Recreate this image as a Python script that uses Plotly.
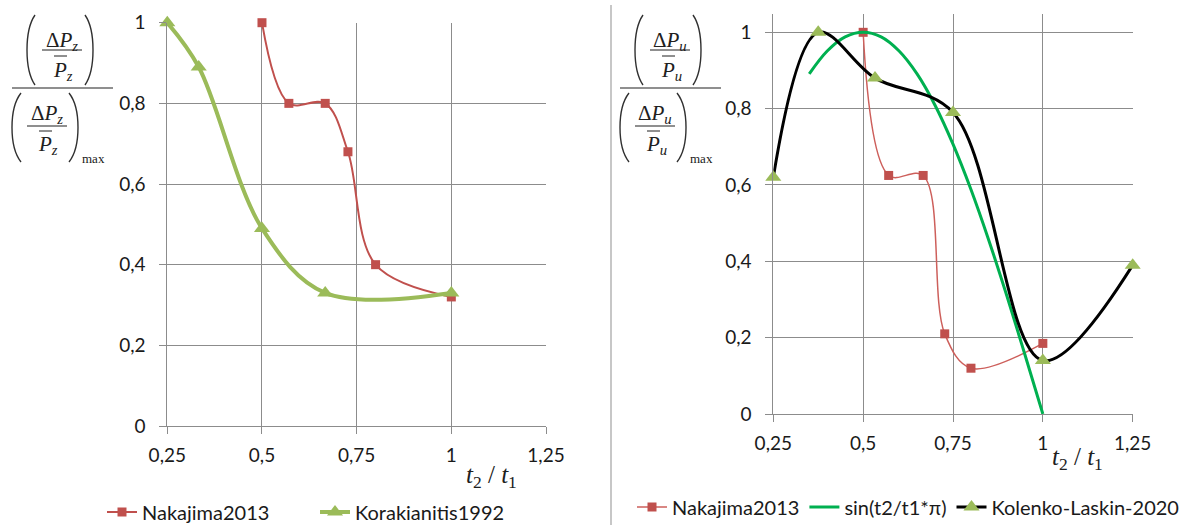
import plotly.graph_objects as go

W, H = 1198, 525

# ---------------- data ----------------
x_ticks = [0.25, 0.5, 0.75, 1.0, 1.25]
x_tick_text = ["0,25", "0,5", "0,75", "1", "1,25"]
y_ticks = [0, 0.2, 0.4, 0.6, 0.8, 1.0]
y_tick_text = ["0", "0,2", "0,4", "0,6", "0,8", "1"]

# left panel
nak_left_x = [0.5, 0.571, 0.667, 0.727, 0.8, 1.0]
nak_left_y = [1.0, 0.80, 0.80, 0.68, 0.40, 0.32]
kor_x = [0.25, 0.333, 0.5, 0.667, 1.0]
kor_y = [1.0, 0.89, 0.49, 0.33, 0.33]

# right panel
nak_right_x = [0.5, 0.571, 0.667, 0.727, 0.8, 1.0]
nak_right_y = [1.0, 0.625, 0.625, 0.21, 0.12, 0.185]
sin_x = [0.35, 0.4, 0.45, 0.5, 0.55, 0.6, 0.65, 0.7, 0.75, 0.8, 0.85, 0.9, 0.95, 1.0]
sin_y = [0.891, 0.951, 0.988, 1.0, 0.988, 0.951, 0.891, 0.809, 0.707, 0.588, 0.454, 0.309, 0.156, 0.0]
kol_x = [0.25, 0.375, 0.533, 0.75, 1.0, 1.25]
kol_y = [0.62, 1.0, 0.88, 0.79, 0.14, 0.39]

RED = "#C0504D"
RED_LIGHT = "#CD5F5B"
LGREEN = "#9BBB59"
GREEN = "#00B050"
GRID = "#8C8C8C"
TXT = "#1a1a1a"
TICKFONT = dict(family="Lato", size=19, color=TXT)
LEGFONT = dict(family="Lato", size=20, color=TXT)


def px(x):
    return x / W


def py(y):
    return 1 - y / H


fig = go.Figure()

fig.add_trace(go.Scatter(x=nak_left_x, y=nak_left_y, name="Nakajima2013", mode="lines+markers",
                         line=dict(color=RED, width=2, shape="spline", smoothing=1),
                         marker=dict(symbol="square", size=9, color=RED),
                         xaxis="x", yaxis="y", legend="legend", cliponaxis=False))
fig.add_trace(go.Scatter(x=kor_x, y=kor_y, name="Korakianitis1992", mode="lines+markers",
                         line=dict(color=LGREEN, width=4, shape="spline", smoothing=1),
                         marker=dict(symbol="triangle-up", size=14, color=LGREEN),
                         xaxis="x", yaxis="y", legend="legend", cliponaxis=False))

fig.add_trace(go.Scatter(x=nak_right_x, y=nak_right_y, name="Nakajima2013", mode="lines+markers",
                         line=dict(color=RED_LIGHT, width=1.5, shape="spline", smoothing=1),
                         marker=dict(symbol="square", size=9, color=RED),
                         xaxis="x2", yaxis="y2", legend="legend2", cliponaxis=False))
fig.add_trace(go.Scatter(x=sin_x, y=sin_y, name="sin(t2/t1*π)", mode="lines",
                         line=dict(color=GREEN, width=3, shape="spline", smoothing=1),
                         xaxis="x2", yaxis="y2", legend="legend2", cliponaxis=False))
fig.add_trace(go.Scatter(x=kol_x, y=kol_y, name="Kolenko-Laskin-2020", mode="lines+markers",
                         line=dict(color="black", width=3, shape="spline", smoothing=1),
                         marker=dict(symbol="triangle-up", size=14, color=LGREEN),
                         xaxis="x2", yaxis="y2", legend="legend2", cliponaxis=False))

axis_common = dict(showgrid=True, gridcolor=GRID, gridwidth=1, showline=True, linecolor=GRID,
                   linewidth=1, ticks="outside", tickcolor=GRID, ticklen=7, tickfont=TICKFONT,
                   zeroline=False, fixedrange=True, automargin=False)

fig.update_layout(
    width=W, height=H,
    margin=dict(l=0, r=0, t=0, b=0, autoexpand=False),
    paper_bgcolor="white", plot_bgcolor="white",
    xaxis=dict(domain=[px(167.3), px(546)], range=[0.25, 1.25], tickvals=x_ticks,
               ticktext=x_tick_text, anchor="y", ticklabelstandoff=5, **axis_common),
    yaxis=dict(domain=[py(426), py(22.7)], range=[0, 1.0], tickvals=y_ticks,
               ticktext=y_tick_text, anchor="x", ticklabelstandoff=10, **axis_common),
    xaxis2=dict(domain=[px(773.3), px(1132.7)], range=[0.25, 1.25], tickvals=x_ticks,
                ticktext=x_tick_text, anchor="y2", ticklabelstandoff=5, **axis_common),
    yaxis2=dict(domain=[py(414), py(14)], range=[0, 1.048], tickvals=y_ticks,
                ticktext=y_tick_text, anchor="x2", ticklabelstandoff=10, **axis_common),
    legend=dict(orientation="h", x=px(102), y=py(512), xanchor="left", yanchor="middle",
                font=LEGFONT, bgcolor="rgba(0,0,0,0)", itemclick=False,
                entrywidth=168, entrywidthmode="pixels"),
    legend2=dict(orientation="h", x=px(632), y=py(507), xanchor="left", yanchor="middle",
                 font=LEGFONT, bgcolor="rgba(0,0,0,0)", itemclick=False),
)

shapes = []
annots = []

# divider
shapes.append(dict(type="line", xref="paper", yref="paper", x0=px(611), x1=px(611), y0=py(5), y1=py(525),
                   line=dict(color="#B4B4B4", width=1.5)))


def hline(x0, x1, y, w=1.2):
    shapes.append(dict(type="line", xref="paper", yref="paper", x0=px(x0), x1=px(x1), y0=py(y), y1=py(y),
                       line=dict(color="#202020", width=w)))


def paren(xl, xr, yt, yb, left=True):
    h = yb - yt
    if left:
        xend, xbulge = xr, xl
    else:
        xend, xbulge = xl, xr
    xc = (xbulge - 0.25 * xend) / 0.75
    path = "M {:.5f},{:.5f} C {:.5f},{:.5f} {:.5f},{:.5f} {:.5f},{:.5f}".format(
        px(xend), py(yt), px(xc), py(yt + 0.22 * h), px(xc), py(yb - 0.22 * h), px(xend), py(yb))
    shapes.append(dict(type="path", xref="paper", yref="paper", path=path,
                       line=dict(color="#303030", width=1.4)))


def text(x, y, s, size=20, xanchor="center"):
    annots.append(dict(x=px(x), y=py(y), xref="paper", yref="paper", text=s, showarrow=False,
                       xanchor=xanchor, yanchor="middle",
                       font=dict(family="Liberation Serif", size=size, color="#202020")))


def ylabel(ox, sub):
    # numerator group
    paren(ox + 27, ox + 35, 15, 85, True)
    paren(ox + 85, ox + 93, 15, 85, False)
    text(ox + 62, 41, "Δ<i>P</i><sub><i>%s</i></sub>" % sub, size=21)
    hline(ox + 42, ox + 82, 50)
    text(ox + 63, 71, "<i>P</i><sub><i>%s</i></sub>" % sub, size=21)
    hline(ox + 54, ox + 67, 56, 1.0)
    # main fraction bar
    hline(ox + 12, ox + 113, 88)
    # denominator group
    paren(ox + 12, ox + 21, 93, 162, True)
    paren(ox + 69, ox + 78, 93, 162, False)
    text(ox + 47, 114, "Δ<i>P</i><sub><i>%s</i></sub>" % sub, size=21)
    hline(ox + 27, ox + 67, 126)
    text(ox + 48, 145, "<i>P</i><sub><i>%s</i></sub>" % sub, size=21)
    hline(ox + 39, ox + 52, 131, 1.0)
    text(ox + 80, 158, "max", size=13, xanchor="left")


ylabel(0, "z")
ylabel(608, "u")

# x-axis titles
text(491, 476, "<i>t</i><sub>2</sub> / <i>t</i><sub>1</sub>", size=25)
text(1077, 458, "<i>t</i><sub>2</sub> / <i>t</i><sub>1</sub>", size=25)

fig.update_layout(shapes=shapes, annotations=annots)

fig.write_html("out.html", config={"displayModeBar": False},
               post_script="document.body.style.margin='0';document.body.style.overflow='hidden';")
